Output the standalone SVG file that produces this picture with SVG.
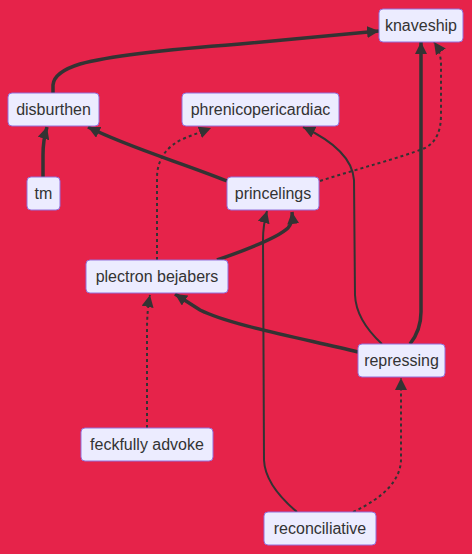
<svg xmlns="http://www.w3.org/2000/svg" width="472" height="554" viewBox="0 0 472 554">
<style>
.bg{fill:#e6234a}
.node rect{fill:#ececff;stroke:#9370db;stroke-width:1}
.node text{font-family:"Liberation Sans",Arial,sans-serif;font-size:16px;fill:#333;text-anchor:middle;dominant-baseline:central}
.e{fill:none;stroke:#333;marker-end:url(#arr)}
.thick{stroke-width:3.5}
.normal{stroke-width:2}
.dot{stroke-width:2;stroke-dasharray:3 3}
</style>
<defs>
<marker id="arr" viewBox="0 0 10 10" refX="10" refY="5" markerWidth="12" markerHeight="12" markerUnits="userSpaceOnUse" orient="auto">
<path d="M0,0 L10,5 L0,10 z" fill="#333"/>
</marker>
</defs>
<rect class="bg" x="0" y="0" width="472" height="554"/>
<g id="edges">
<path class="e thick" d="M53,93 L53,85 Q54,72 80,64 Q120,53 240,44 L379,31"/>
<path class="e thick" d="M410,344 Q421,330 421,312 L421,42"/>
<path class="e dot" d="M320,181 C360,168 400,158 425,148 Q441,140 441,115 L441,65 Q441,52 434,42"/>
<path class="e thick" d="M227,181 C180,162 130,148 88,127"/>
<path class="e thick" d="M43,177 L43,155 Q43,140 47,127"/>
<path class="e dot" d="M157,260 L157,178 Q157,150 185,138 L211,128"/>
<path class="e normal" d="M382,344 Q356,320 355,295 L354,180 Q352,150 303,127"/>
<path class="e thick" d="M217,260 Q275,240 288,228 Q293,222 292,212"/>
<path class="e normal" d="M297,512 Q265,485 264,460 L263,240 Q263,225 267,211"/>
<path class="e thick" d="M358,352 C300,338 230,325 200,310 L175,294"/>
<path class="e dot" d="M147,428 L147,330 Q147,310 150,295"/>
<path class="e dot" d="M353,512 Q400,490 401,460 L401,378"/>
</g>
<g id="knaveship" class="node"><rect x="379" y="9" width="84" height="33" rx="4"/><text x="421" y="25.5">knaveship</text></g>
<g id="disburthen" class="node"><rect x="8" y="93" width="91" height="33" rx="4"/><text x="53.5" y="109.5">disburthen</text></g>
<g id="phrenicopericardiac" class="node"><rect x="182" y="93" width="157" height="33" rx="4"/><text x="260.5" y="109.5">phrenicopericardiac</text></g>
<g id="tm" class="node"><rect x="27" y="177" width="33" height="33" rx="4"/><text x="43.5" y="193.5">tm</text></g>
<g id="princelings" class="node"><rect x="227" y="177" width="92" height="33" rx="4"/><text x="273" y="193.5">princelings</text></g>
<g id="plectron_bejabers" class="node"><rect x="86" y="260" width="142" height="33" rx="4"/><text x="157" y="276.5">plectron bejabers</text></g>
<g id="repressing" class="node"><rect x="358" y="344" width="87" height="33" rx="4"/><text x="401.5" y="360.5">repressing</text></g>
<g id="feckfully_advoke" class="node"><rect x="81" y="428" width="132" height="33" rx="4"/><text x="147" y="444.5">feckfully advoke</text></g>
<g id="reconciliative" class="node"><rect x="264" y="512" width="112" height="33" rx="4"/><text x="320" y="528.5">reconciliative</text></g>
</svg>
